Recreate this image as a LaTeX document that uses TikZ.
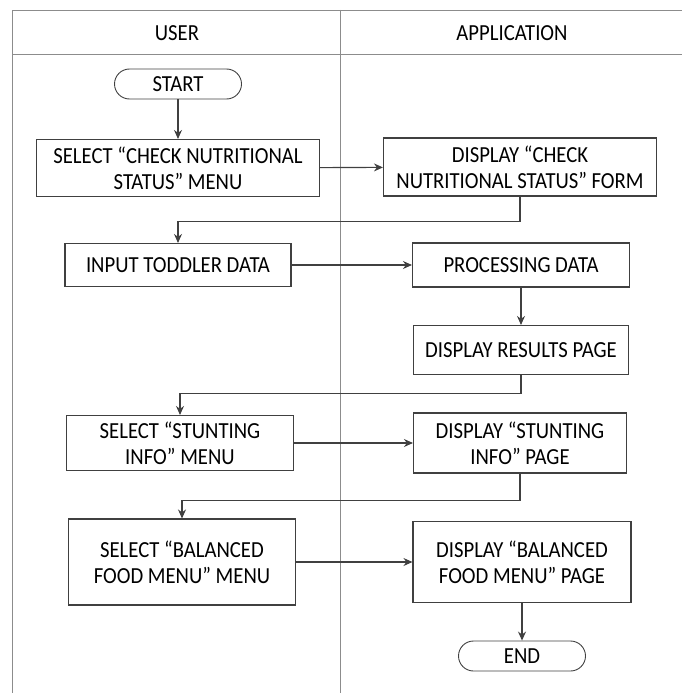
\documentclass[tikz,border=0pt]{standalone}
\usepackage{fontspec}
\setmainfont{Carlito}[FakeStretch=0.9]
\usetikzlibrary{arrows.meta}
\definecolor{lanegray}{HTML}{8C8C8C}
\definecolor{boxgray}{HTML}{404040}
\tikzset{
  lane/.style={draw=lanegray,line width=0.8pt},
  procbox/.style={draw=boxgray,line width=1.1pt,align=center,inner sep=0pt},
  termbox/.style={draw=boxgray,line width=0.9pt,rounded corners=15pt,minimum width=127pt,minimum height=30pt,inner sep=0pt},
  flow/.style={draw=boxgray,line width=1.1pt,-{Stealth[length=9pt,width=8pt]}}
}
\begin{document}
\begin{tikzpicture}[x=1pt,y=-1pt,font=\fontsize{23}{26}\selectfont]
        \useasboundingbox (0,0) rectangle (682,693);

        \draw [lane] (12,693) -- (12,10) -- (682,10);
        \draw [lane] (12,54) -- (682,54);
        \draw [lane] (340,10) -- (340,693);
        \node (user) at (177,33) {USER};
        \node (app)  at (512,33) {APPLICATION};

        \node (start) [termbox] at (178,84) {START};
        \node (sel1)  [procbox,minimum width=283pt,minimum height=57pt] at (178,168) {SELECT “CHECK NUTRITIONAL\\STATUS” MENU};
        \node (disp1) [procbox,minimum width=273pt,minimum height=58pt] at (520,167) {DISPLAY “CHECK\\NUTRITIONAL STATUS” FORM};
        \node (input) [procbox,minimum width=226pt,minimum height=43pt] at (178,265) {INPUT TODDLER DATA};
        \node (proc)  [procbox,minimum width=217pt,minimum height=44pt] at (521,265) {PROCESSING DATA};
        \node (res)   [procbox,minimum width=215pt,minimum height=49pt] at (521,350) {DISPLAY RESULTS PAGE};
        \node (sel2)  [procbox,minimum width=227pt,minimum height=55pt] at (180,443) {SELECT “STUNTING\\INFO” MENU};
        \node (disp2) [procbox,minimum width=213pt,minimum height=60pt] at (520,443) {DISPLAY “STUNTING\\INFO” PAGE};
        \node (sel3)  [procbox,minimum width=227pt,minimum height=86pt] at (182,562) {SELECT “BALANCED\\FOOD MENU” MENU};
        \node (disp3) [procbox,minimum width=218pt,minimum height=81pt] at (522,562) {DISPLAY “BALANCED\\FOOD MENU” PAGE};
        \node (end)   [termbox] at (522,656) {END};

        \draw [flow] (start) -- (sel1);
        \draw [flow] (sel1) -- (disp1);
        \draw [flow] (disp1.south) -- ++(0,25) -| (input.north);
        \draw [flow] (input) -- (proc);
        \draw [flow] (proc) -- (res);
        \draw [flow] (res.south) -- ++(0,18) -| (sel2.north);
        \draw [flow] (sel2) -- (disp2);
        \draw [flow] (disp2.south) -- ++(0,27) -| (sel3.north);
        \draw [flow] (sel3) -- (disp3);
        \draw [flow] (disp3) -- (end);
      \end{tikzpicture}
\end{document}
